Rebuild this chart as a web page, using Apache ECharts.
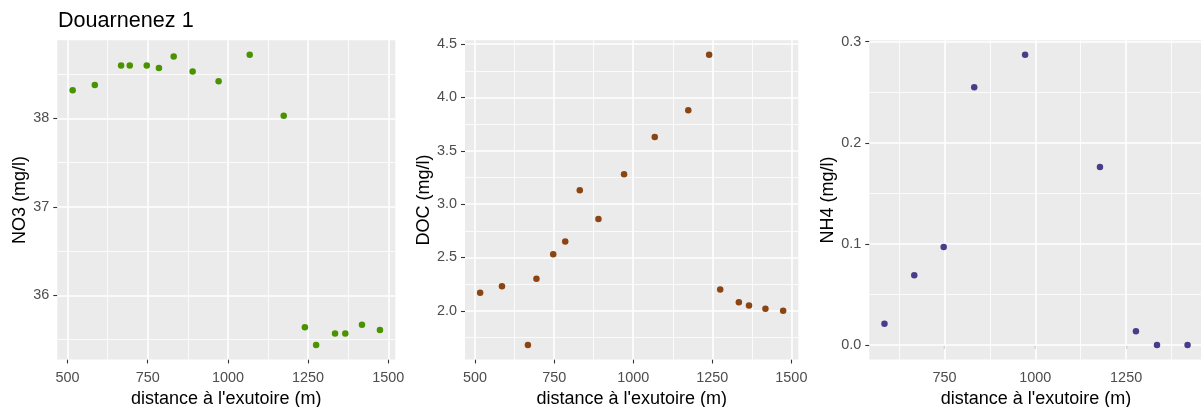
<!DOCTYPE html>
<html>
<head>
<meta charset="utf-8">
<script src="https://cdn.jsdelivr.net/npm/echarts@6/dist/echarts.min.js"></script>
<style>
html,body{margin:0;padding:0;background:#fff;}
#chart{width:1201px;height:407px;}
</style>
</head>
<body>
<div id="chart"></div>
<script>
// ---- data ----
const title = 'Douarnenez 1';
const xTitle = "distance à l'exutoire (m)";
const distance = [516, 585, 667, 694, 747, 785, 831, 890, 971, 1068, 1174, 1240, 1275, 1334, 1366, 1418, 1474];
const no3 = [38.32, 38.38, 38.60, 38.60, 38.60, 38.57, 38.70, 38.53, 38.42, 38.72, 38.03, 35.64, 35.44, 35.57, 35.57, 35.67, 35.61];
const doc = [2.17, 2.23, 1.68, 2.30, 2.53, 2.65, 3.13, 2.86, 3.28, 3.63, 3.88, 4.40, 2.20, 2.08, 2.05, 2.02, 2.00];
const distanceNH4 = [585, 667, 748, 832, 972, 1178, 1277, 1335, 1419];
const nh4 = [0.021, 0.069, 0.097, 0.255, 0.287, 0.176, 0.0135, 0, 0];

const xTicks12 = [500, 750, 1000, 1250, 1500];
const xMinor12 = [625, 875, 1125, 1375];
const xTicks3 = [750, 1000, 1250];
const xMinor3 = [625, 875, 1125, 1375];
const yTicksNO3 = [36, 37, 38];
const yMinorNO3 = [35.5, 36.5, 37.5, 38.5];
const yTicksDOC = [2.0, 2.5, 3.0, 3.5, 4.0, 4.5];
const yMinorDOC = [1.75, 2.25, 2.75, 3.25, 3.75, 4.25];
const yTicksNH4 = [0.0, 0.1, 0.2, 0.3];
const yMinorNH4 = [0.05, 0.15, 0.25];

const colNO3 = '#4A9300', colDOC = '#8B4513', colNH4 = '#483D8B';

// ---- helpers ----
function expand(arr) {
  const mn = Math.min(...arr), mx = Math.max(...arr), r = mx - mn;
  return [mn - 0.05 * r, mx + 0.05 * r];
}
const FONT = 'Liberation Sans, Arial, sans-serif';
const panelTop = 40.3, panelH = 319.2;
const grids = [
  {left: 57.3, top: panelTop, width: 338, height: panelH},
  {left: 465, top: panelTop, width: 333.3, height: panelH},
  {left: 869.3, top: panelTop, width: 333.4, height: panelH}
].map(g => Object.assign(g, {show: true, backgroundColor: '#EBEBEB', borderWidth: 0,
                             containLabel: false, outerBoundsMode: 'none'}));

function xAxis(i, data, ticks) {
  const [mn, mx] = expand(data);
  return {
    type: 'value', gridIndex: i, min: mn, max: mx,
    name: xTitle, nameLocation: 'middle', nameGap: 27,
    nameTextStyle: {fontFamily: FONT, fontSize: 18, color: '#000'},
    axisLine: {show: false},
    axisTick: {show: true, length: 4, lineStyle: {color: '#333333', width: 1.1}, customValues: ticks},
    axisLabel: {show: true, customValues: ticks, margin: 12, fontFamily: FONT, fontSize: 14.4, color: '#4D4D4D', hideOverlap: false,
                formatter: v => String(v)},
    splitLine: {show: false}
  };
}
function yAxis(i, data, ticks, name, gap, fmt) {
  const [mn, mx] = expand(data);
  return {
    type: 'value', gridIndex: i, min: mn, max: mx,
    name: name, nameLocation: 'middle', nameGap: gap, nameRotate: 90,
    nameTextStyle: {fontFamily: FONT, fontSize: 18, color: '#000'},
    axisLine: {show: false},
    axisTick: {show: true, length: 4, lineStyle: {color: '#333333', width: 1.1}, customValues: ticks},
    axisLabel: {show: true, customValues: ticks, margin: 8, fontFamily: FONT, fontSize: 14.4, color: '#4D4D4D', formatter: fmt, hideOverlap: false},
    splitLine: {show: false}
  };
}
function gridLines(i, xMaj, xMin, yMaj, yMin) {
  const d = [];
  xMin.forEach(v => d.push({xAxis: v, lineStyle: {width: 0.8}}));
  yMin.forEach(v => d.push({yAxis: v, lineStyle: {width: 0.8}}));
  xMaj.forEach(v => d.push({xAxis: v, lineStyle: {width: 1.6}}));
  yMaj.forEach(v => d.push({yAxis: v, lineStyle: {width: 1.6}}));
  return {
    type: 'scatter', xAxisIndex: i, yAxisIndex: i, data: [], silent: true, z: 1,
    markLine: {
      silent: true, z: 1, symbol: ['none', 'none'], animation: false,
      label: {show: false}, emphasis: {disabled: true},
      lineStyle: {color: '#FFFFFF', type: 'solid', opacity: 1},
      data: d
    }
  };
}
function pts(i, xs, ys, color) {
  return {
    type: 'scatter', xAxisIndex: i, yAxisIndex: i, z: 3,
    data: xs.map((x, k) => [x, ys[k]]),
    symbol: 'circle', symbolSize: 6.5,
    itemStyle: {color: color, opacity: 1},
    emphasis: {disabled: true}, silent: true
  };
}

const chart = echarts.init(document.getElementById('chart'), null, {renderer: 'canvas'});
chart.setOption({
  animation: false,
  backgroundColor: '#FFFFFF',
  title: {
    text: title, left: 58, top: 10, padding: 0,
    textStyle: {fontFamily: FONT, fontSize: 21.6, fontWeight: 'normal', color: '#000'}
  },
  grid: grids,
  xAxis: [xAxis(0, distance, xTicks12), xAxis(1, distance, xTicks12), xAxis(2, distanceNH4, xTicks3)],
  yAxis: [
    yAxis(0, no3, yTicksNO3, 'NO3 (mg/l)', 25.5, v => String(Math.round(v))),
    yAxis(1, doc, yTicksDOC, 'DOC (mg/l)', 31, v => v.toFixed(1)),
    yAxis(2, nh4, yTicksNH4, 'NH4 (mg/l)', 31, v => v.toFixed(1))
  ],
  series: [
    gridLines(0, xTicks12, xMinor12, yTicksNO3, yMinorNO3),
    gridLines(1, xTicks12, xMinor12, yTicksDOC, yMinorDOC),
    gridLines(2, xTicks3, xMinor3, yTicksNH4, yMinorNH4),
    pts(0, distance, no3, colNO3),
    pts(1, distance, doc, colDOC),
    pts(2, distanceNH4, nh4, colNH4)
  ]
});
</script>
</body>
</html>
